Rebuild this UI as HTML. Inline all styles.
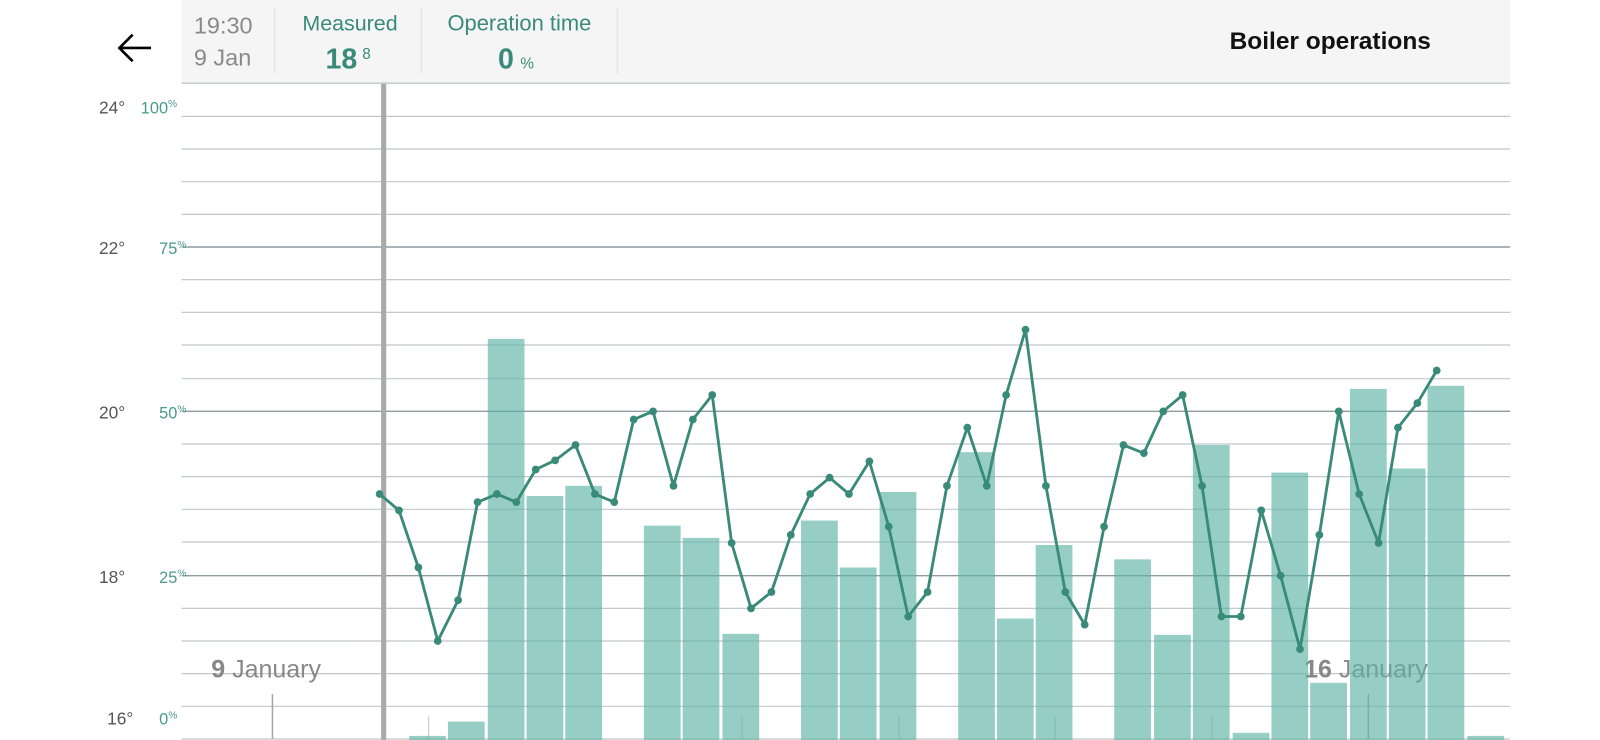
<!DOCTYPE html>
<html><head><meta charset="utf-8"><style>
html,body{margin:0;padding:0;background:#fff;width:1600px;height:740px;overflow:hidden}
svg{display:block;font-family:"Liberation Sans",sans-serif}
</style></head><body>
<svg width="1600" height="740" viewBox="0 0 1568 725" preserveAspectRatio="none" xmlns="http://www.w3.org/2000/svg">
<rect x="178" y="0" width="1302" height="81" fill="#f5f5f5"/>
<line x1="178" y1="81.5" x2="1480" y2="81.5" stroke="#c9d0d4" stroke-width="1.5"/>
<g stroke="#e4e4e4" stroke-width="1.5"><line x1="269" y1="8" x2="269" y2="72"/><line x1="413" y1="8" x2="413" y2="72"/><line x1="605" y1="8" x2="605" y2="72"/></g>
<g stroke="#000" stroke-width="2.6" fill="none"><line x1="117" y1="47" x2="148" y2="47"/><polyline points="130,34 117,47 130,60"/></g>
<text x="190" y="33" font-size="23" fill="#8a8a8a">19:30</text>
<text x="190" y="64" font-size="23" fill="#8a8a8a">9 Jan</text>
<text x="343" y="30" font-size="21" fill="#3a8a7a" text-anchor="middle">Measured</text>
<text x="319" y="67" font-size="28" font-weight="bold" fill="#3a8a7a">18</text>
<text x="355" y="58" font-size="15" fill="#3a8a7a">8</text>
<text x="509" y="30" font-size="21.5" fill="#3a8a7a" text-anchor="middle">Operation time</text>
<text x="488" y="67" font-size="28" font-weight="bold" fill="#3a8a7a">0</text>
<text x="510" y="67" font-size="15" fill="#3a8a7a">%</text>
<text x="1205" y="48" font-size="24" font-weight="bold" fill="#111">Boiler operations</text>
<g stroke="#c2c8cc" stroke-width="1.2">
<line x1="178" y1="114" x2="1480" y2="114"/><line x1="178" y1="146" x2="1480" y2="146"/><line x1="178" y1="178" x2="1480" y2="178"/><line x1="178" y1="210" x2="1480" y2="210"/>
<line x1="178" y1="274" x2="1480" y2="274"/><line x1="178" y1="306" x2="1480" y2="306"/><line x1="178" y1="338" x2="1480" y2="338"/><line x1="178" y1="371" x2="1480" y2="371"/>
<line x1="178" y1="435" x2="1480" y2="435"/><line x1="178" y1="467" x2="1480" y2="467"/><line x1="178" y1="499" x2="1480" y2="499"/><line x1="178" y1="531" x2="1480" y2="531"/>
<line x1="178" y1="596" x2="1480" y2="596"/><line x1="178" y1="628" x2="1480" y2="628"/><line x1="178" y1="660" x2="1480" y2="660"/><line x1="178" y1="692" x2="1480" y2="692"/><line x1="178" y1="724" x2="1480" y2="724"/>
</g>
<g stroke="#8f9ba1" stroke-width="1.4"><line x1="178" y1="242" x2="1480" y2="242"/><line x1="178" y1="403" x2="1480" y2="403"/><line x1="178" y1="564" x2="1480" y2="564"/></g>
<g font-size="17" fill="#555"><text x="97" y="111">24°</text><text x="97" y="249">22°</text><text x="97" y="410">20°</text><text x="97" y="571">18°</text><text x="105" y="710">16°</text></g>
<g font-size="16" fill="#4a9a8c"><text x="138" y="111">100<tspan font-size="10" dy="-6">%</tspan></text><text x="156" y="249">75<tspan font-size="10" dy="-6">%</tspan></text><text x="156" y="410">50<tspan font-size="10" dy="-6">%</tspan></text><text x="156" y="571">25<tspan font-size="10" dy="-6">%</tspan></text><text x="156" y="710">0<tspan font-size="10" dy="-6">%</tspan></text></g>
<text x="207" y="664" font-size="24.5" fill="#888"><tspan font-weight="bold">9</tspan> January</text>
<text x="1278" y="664" font-size="24.5" fill="#888"><tspan font-weight="bold">16</tspan> January</text>
<g stroke="#a6a6a6" stroke-width="1.5"><line x1="267" y1="680" x2="267" y2="724"/><line x1="1341" y1="680" x2="1341" y2="724"/></g>
<g stroke="#cfcfcf" stroke-width="1.2"><line x1="420" y1="702" x2="420" y2="724"/><line x1="727" y1="702" x2="727" y2="724"/><line x1="881" y1="702" x2="881" y2="724"/><line x1="1034" y1="702" x2="1034" y2="724"/><line x1="1188" y1="702" x2="1188" y2="724"/></g>
<rect x="373.5" y="82" width="5" height="643" fill="#aaa"/>
<g fill="#5db3a8" fill-opacity="0.65">
<rect x="401" y="721" width="36" height="4"/><rect x="439" y="707" width="36" height="18"/><rect x="478" y="332" width="36" height="393"/><rect x="516" y="486" width="36" height="239"/><rect x="554" y="476" width="36" height="249"/>
<rect x="631" y="515" width="36" height="210"/><rect x="669" y="527" width="36" height="198"/><rect x="708" y="621" width="36" height="104"/>
<rect x="785" y="510" width="36" height="215"/><rect x="823" y="556" width="36" height="169"/><rect x="862" y="482" width="36" height="243"/>
<rect x="939" y="443" width="36" height="282"/><rect x="977" y="606" width="36" height="119"/><rect x="1015" y="534" width="36" height="191"/>
<rect x="1092" y="548" width="36" height="177"/><rect x="1131" y="622" width="36" height="103"/><rect x="1169" y="436" width="36" height="289"/><rect x="1208" y="718" width="36" height="7"/>
<rect x="1246" y="463" width="36" height="262"/><rect x="1284" y="669" width="36" height="56"/><rect x="1323" y="381" width="36" height="344"/><rect x="1361" y="459" width="36" height="266"/><rect x="1399" y="378" width="36" height="347"/><rect x="1438" y="721" width="36" height="4"/>
</g>
<polyline fill="none" stroke="#3a8a7a" stroke-width="2.8" stroke-linejoin="round" points="372,484 391,500 410,556 429,628 449,588 468,492 487,484 506,492 525,460 544,451 564,436 583,484 602,492 621,411 640,403 660,476 679,411 698,387 717,532 736,596 756,580 775,524 794,484 813,468 832,484 852,452 871,516 890,604 909,580 928,476 948,419 967,476 986,387 1005,323 1025,476 1044,580 1063,612 1082,516 1101,436 1121,444 1140,403 1159,387 1178,476 1197,604 1216,604 1236,500 1255,564 1274,636 1293,524 1312,403 1332,484 1351,532 1370,419 1389,395 1408,363"/>
<g fill="#3a8a7a">
<circle cx="372" cy="484" r="3.8"/><circle cx="391" cy="500" r="3.8"/><circle cx="410" cy="556" r="3.8"/><circle cx="429" cy="628" r="3.8"/><circle cx="449" cy="588" r="3.8"/><circle cx="468" cy="492" r="3.8"/><circle cx="487" cy="484" r="3.8"/><circle cx="506" cy="492" r="3.8"/><circle cx="525" cy="460" r="3.8"/><circle cx="544" cy="451" r="3.8"/><circle cx="564" cy="436" r="3.8"/><circle cx="583" cy="484" r="3.8"/><circle cx="602" cy="492" r="3.8"/><circle cx="621" cy="411" r="3.8"/><circle cx="640" cy="403" r="3.8"/><circle cx="660" cy="476" r="3.8"/><circle cx="679" cy="411" r="3.8"/><circle cx="698" cy="387" r="3.8"/><circle cx="717" cy="532" r="3.8"/><circle cx="736" cy="596" r="3.8"/><circle cx="756" cy="580" r="3.8"/><circle cx="775" cy="524" r="3.8"/><circle cx="794" cy="484" r="3.8"/><circle cx="813" cy="468" r="3.8"/><circle cx="832" cy="484" r="3.8"/><circle cx="852" cy="452" r="3.8"/><circle cx="871" cy="516" r="3.8"/><circle cx="890" cy="604" r="3.8"/><circle cx="909" cy="580" r="3.8"/><circle cx="928" cy="476" r="3.8"/><circle cx="948" cy="419" r="3.8"/><circle cx="967" cy="476" r="3.8"/><circle cx="986" cy="387" r="3.8"/><circle cx="1005" cy="323" r="3.8"/><circle cx="1025" cy="476" r="3.8"/><circle cx="1044" cy="580" r="3.8"/><circle cx="1063" cy="612" r="3.8"/><circle cx="1082" cy="516" r="3.8"/><circle cx="1101" cy="436" r="3.8"/><circle cx="1121" cy="444" r="3.8"/><circle cx="1140" cy="403" r="3.8"/><circle cx="1159" cy="387" r="3.8"/><circle cx="1178" cy="476" r="3.8"/><circle cx="1197" cy="604" r="3.8"/><circle cx="1216" cy="604" r="3.8"/><circle cx="1236" cy="500" r="3.8"/><circle cx="1255" cy="564" r="3.8"/><circle cx="1274" cy="636" r="3.8"/><circle cx="1293" cy="524" r="3.8"/><circle cx="1312" cy="403" r="3.8"/><circle cx="1332" cy="484" r="3.8"/><circle cx="1351" cy="532" r="3.8"/><circle cx="1370" cy="419" r="3.8"/><circle cx="1389" cy="395" r="3.8"/><circle cx="1408" cy="363" r="3.8"/>
</g>
</svg>
</body></html>
